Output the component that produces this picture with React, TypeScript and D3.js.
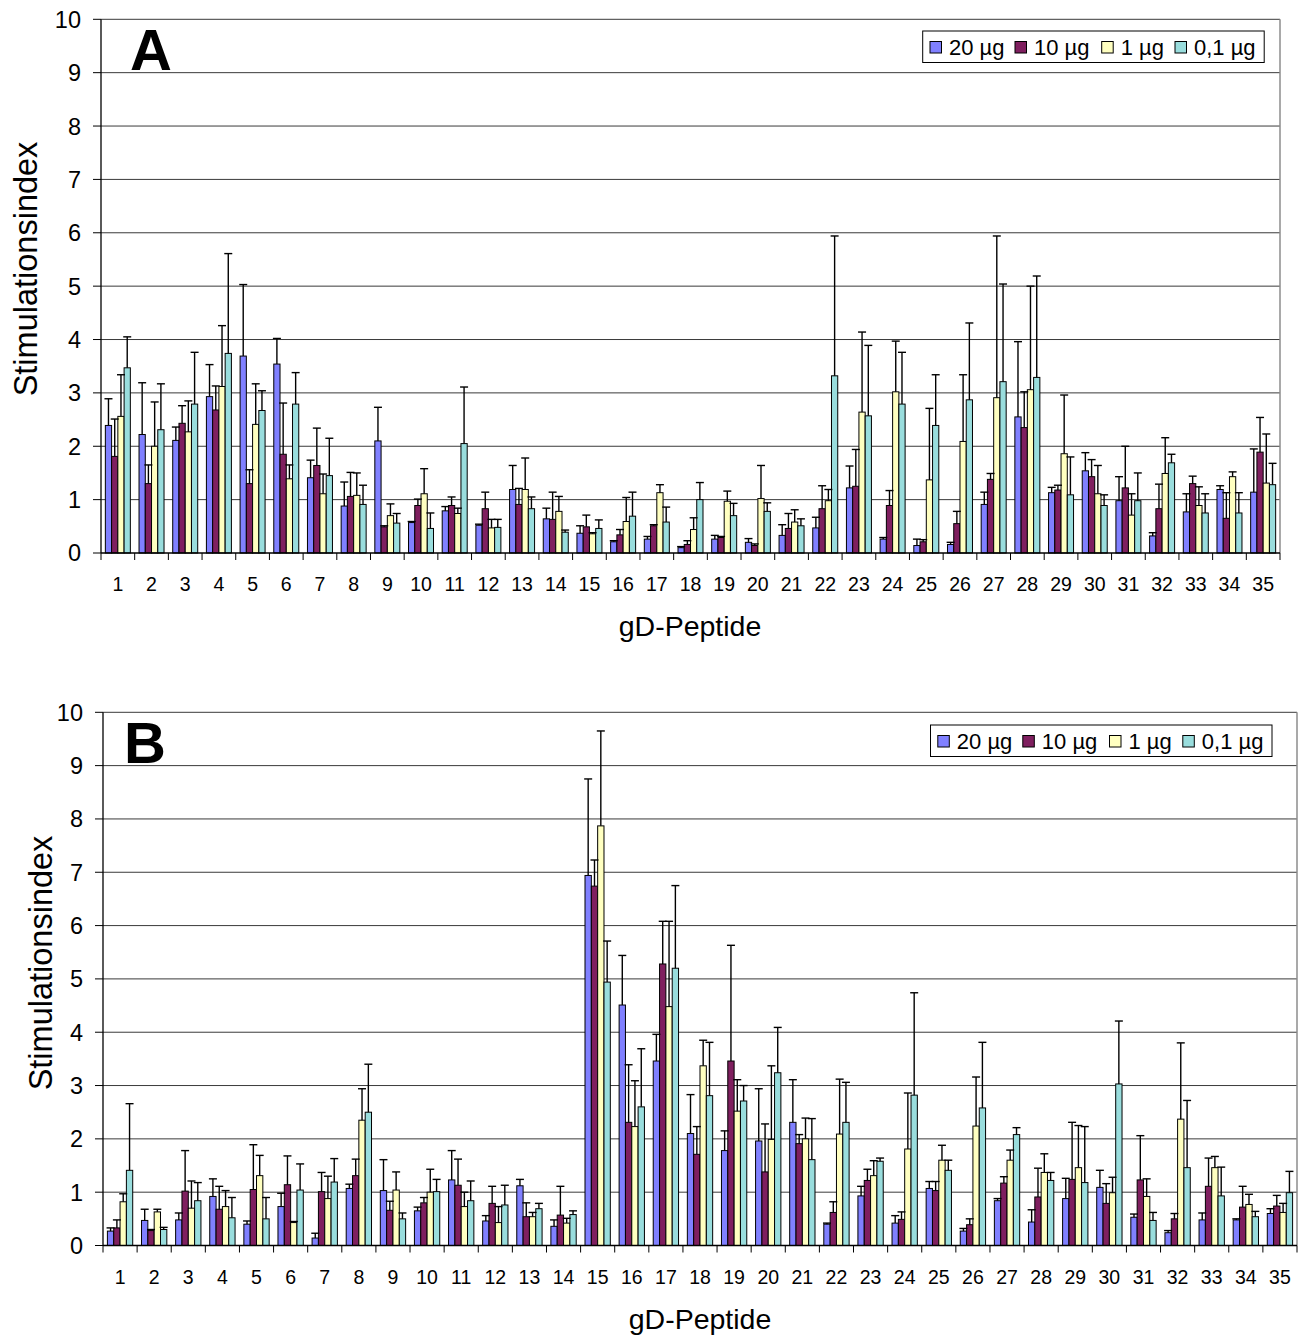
import React from "react";
import * as d3 from "d3";

const peptides = ["1","2","3","4","5","6","7","8","9","10","11","12","13","14","15","16","17","18","19","20","21","22","23","24","25","26","27","28","29","30","31","32","33","34","35"];
const seriesNames = ["20 µg", "10 µg", "1 µg", "0,1 µg"];
const seriesColors = ["#8080FF", "#7F1F5F", "#FFFFC0", "#99DDDD"];
const yTicks = [0, 1, 2, 3, 4, 5, 6, 7, 8, 9, 10];

// Panel A – means
const a20 = [2.39,2.22,2.11,2.93,3.69,3.54,1.41,0.88,2.10,0.57,0.79,0.52,1.19,0.64,0.37,0.21,0.26,0.10,0.26,0.20,0.33,0.47,1.22,0.26,0.14,0.16,0.91,2.55,1.13,1.54,0.98,0.32,0.77,1.19,1.14];
const a10 = [1.81,1.30,2.43,2.68,1.30,1.85,1.64,1.06,0.49,0.89,0.89,0.83,0.91,0.63,0.49,0.34,0.51,0.16,0.29,0.14,0.46,0.83,1.25,0.89,0.21,0.55,1.38,2.35,1.18,1.43,1.22,0.83,1.30,0.65,1.89];
const a1 = [2.56,2.00,2.27,3.12,2.41,1.39,1.11,1.08,0.70,1.11,0.74,0.47,1.19,0.78,0.36,0.59,1.13,0.44,0.97,1.02,0.58,0.98,2.64,3.02,1.37,2.09,2.91,3.06,1.86,1.11,0.71,1.49,0.89,1.43,1.31];
const a01 = [3.47,2.31,2.79,3.74,2.67,2.79,1.45,0.91,0.56,0.46,2.05,0.48,0.83,0.39,0.46,0.69,0.58,1.00,0.70,0.78,0.51,3.32,2.57,2.79,2.39,2.87,3.21,3.29,1.09,0.89,0.98,1.69,0.75,0.75,1.28];
// Panel A – standard deviations (upper error bars)
const a20sd = [0.50,0.97,0.25,0.60,1.34,0.48,0.33,0.45,0.63,0.02,0.08,0.02,0.45,0.20,0.14,0.02,0.05,0.02,0.07,0.07,0.20,0.20,0.41,0.03,0.12,0.04,0.23,1.41,0.10,0.34,0.45,0.06,0.34,0.07,0.81];
const a10sd = [0.70,0.35,0.33,0.45,0.26,0.96,0.70,0.45,0.02,0.12,0.16,0.31,0.30,0.51,0.22,0.10,0.02,0.07,0.02,0.03,0.28,0.43,0.69,0.28,0.04,0.23,0.11,0.67,0.09,0.32,0.78,0.46,0.14,0.48,0.65];
const a1sd = [0.78,0.83,0.58,1.14,0.76,0.26,0.37,0.42,0.22,0.47,0.10,0.16,0.59,0.28,0.02,0.45,0.15,0.22,0.19,0.62,0.23,0.21,1.50,0.95,1.34,1.25,3.03,1.94,1.10,0.53,0.40,0.67,0.35,0.09,0.92];
const a01sd = [0.58,0.86,0.97,1.87,0.37,0.59,0.70,0.36,0.18,0.29,1.06,0.15,0.22,0.04,0.16,0.45,0.28,0.32,0.23,0.16,0.13,2.62,1.32,0.97,0.95,1.44,1.83,1.90,0.71,0.20,0.52,0.16,0.36,0.38,0.40];

// Panel B – means
const b20 = [0.27,0.47,0.48,0.92,0.40,0.73,0.14,1.07,1.03,0.65,1.23,0.46,1.12,0.36,6.94,4.51,3.46,2.10,1.78,1.96,2.31,0.40,0.93,0.42,1.07,0.27,0.84,0.44,0.88,1.09,0.53,0.24,0.48,0.48,0.60];
const b10 = [0.33,0.28,1.02,0.68,1.05,1.14,1.01,1.31,0.66,0.80,1.13,0.79,0.54,0.57,6.74,2.31,5.28,1.71,3.46,1.38,1.91,0.62,1.22,0.49,1.03,0.39,1.17,0.91,1.24,0.79,1.23,0.50,1.11,0.72,0.74];
const b1 = [0.82,0.63,0.70,0.73,1.31,0.43,0.88,2.35,1.04,1.00,0.73,0.43,0.54,0.42,7.87,2.23,4.48,3.37,2.52,1.99,2.00,2.09,1.31,1.81,1.60,2.24,1.60,1.37,1.46,0.99,0.92,2.37,1.46,0.77,0.62];
const b01 = [1.41,0.30,0.84,0.52,0.50,1.04,1.19,2.50,0.50,1.01,0.84,0.76,0.69,0.58,4.94,2.60,5.20,2.81,2.71,3.24,1.61,2.31,1.58,2.82,1.41,2.58,2.08,1.22,1.18,3.03,0.47,1.46,0.93,0.54,0.99];
// Panel B – standard deviations
const b20sd = [0.06,0.21,0.13,0.33,0.06,0.25,0.09,0.08,0.58,0.07,0.55,0.10,0.12,0.12,1.81,0.93,0.50,0.73,0.37,0.98,0.80,0.02,0.18,0.14,0.13,0.05,0.04,0.23,0.38,0.32,0.06,0.04,0.13,0.02,0.09];
const b10sd = [0.15,0.02,0.76,0.43,0.84,0.54,0.36,0.31,0.17,0.10,0.49,0.32,0.26,0.54,0.49,1.08,0.80,0.52,2.17,0.90,0.17,0.20,0.21,0.14,0.17,0.11,0.12,0.54,1.07,0.37,0.83,0.10,0.53,0.39,0.20];
const b1sd = [0.15,0.05,0.51,0.30,0.38,0.02,0.42,0.59,0.34,0.43,0.27,0.30,0.08,0.09,1.78,0.86,1.60,0.48,0.59,1.38,0.39,1.03,0.28,1.05,0.28,0.92,0.19,0.35,0.79,0.29,0.33,1.43,0.21,0.19,0.17];
const b01sd = [1.25,0.04,0.34,0.38,0.40,0.49,0.44,0.90,0.11,0.23,0.37,0.37,0.10,0.07,0.77,1.09,1.55,1.00,0.29,0.85,0.77,0.75,0.06,1.92,0.19,1.23,0.13,0.15,1.05,1.18,0.15,1.26,0.54,0.10,0.40];

const FONT = "Liberation Sans, Arial, Helvetica, sans-serif";

type PanelProps = {
  label: string;
  means: number[][];
  sds: number[][];
  left: number;
  right: number;
  top: number;
  bottom: number;
  legendX: number;
  legendY: number;
  yTitleX: number;
  yTitleY: number;
  xTitleX: number;
  labelX: number;
  labelY: number;
};

function Panel(p: PanelProps) {
  const x = d3.scaleBand<string>().domain(peptides).range([p.left, p.right]).padding(0);
  const bw = x.bandwidth();
  const groupW = bw * 0.742;
  const xs = d3
    .scaleBand<string>()
    .domain(seriesNames)
    .range([(bw - groupW) / 2, (bw + groupW) / 2])
    .padding(0);
  const y = d3.scaleLinear().domain([0, 10]).range([p.bottom, p.top]);
  const capW = 8;

  const bars: React.ReactNode[] = [];
  const errs: React.ReactNode[] = [];
  seriesNames.forEach((s, si) => {
    peptides.forEach((c, ci) => {
      const v = p.means[si][ci];
      const e = p.sds[si][ci];
      const bx = (x(c) as number) + (xs(s) as number);
      const w = xs.bandwidth();
      bars.push(
        <rect
          key={`b-${si}-${ci}`}
          x={bx}
          y={y(v)}
          width={w}
          height={y(0) - y(v)}
          fill={seriesColors[si]}
          stroke="#000"
          strokeWidth={1}
        />
      );
      const cx = bx + w / 2;
      errs.push(
        <g key={`e-${si}-${ci}`} stroke="#000" strokeWidth={1.4}>
          <line x1={cx} x2={cx} y1={y(v)} y2={y(v + e)} />
          <line x1={cx - capW / 2} x2={cx + capW / 2} y1={y(v + e)} y2={y(v + e)} />
        </g>
      );
    });
  });

  const boundaries = [...peptides.map((c) => x(c) as number), p.right];

  // legend layout
  const legItemX = [7.3, 92.3, 179, 252.3];
  const legW = 341.5;
  const legH = 31.5;

  return (
    <g>
      {yTicks.slice(1).map((t) => (
        <line key={`g${t}`} x1={p.left} x2={p.right} y1={y(t)} y2={y(t)} stroke="#3a3a3a" strokeWidth={1} />
      ))}
      <line x1={p.right} x2={p.right} y1={p.top} y2={p.bottom} stroke="#8c8c8c" strokeWidth={1.5} />
      {bars}
      {errs}
      <line x1={p.left} x2={p.left} y1={p.top} y2={p.bottom} stroke="#000" strokeWidth={1.3} />
      {yTicks.map((t) => (
        <g key={`yt${t}`}>
          <line x1={p.left - 8} x2={p.left} y1={y(t)} y2={y(t)} stroke="#000" strokeWidth={1} />
          <text
            x={p.left - 20}
            y={y(t)}
            dy="0.36em"
            textAnchor="end"
            fontFamily={FONT}
            fontSize={23.5}
            fill="#000"
          >
            {t}
          </text>
        </g>
      ))}
      <line x1={p.left} x2={p.right} y1={p.bottom} y2={p.bottom} stroke="#000" strokeWidth={1.3} />
      {boundaries.map((bx, i) => (
        <line key={`xt${i}`} x1={bx} x2={bx} y1={p.bottom} y2={p.bottom + 7} stroke="#000" strokeWidth={1} />
      ))}
      {peptides.map((c) => (
        <text
          key={`xl${c}`}
          x={(x(c) as number) + bw / 2}
          y={p.bottom + 38}
          textAnchor="middle"
          fontFamily={FONT}
          fontSize={19.5}
          fill="#000"
        >
          {c}
        </text>
      ))}
      <text
        x={p.xTitleX}
        y={p.bottom + 83}
        textAnchor="middle"
        fontFamily={FONT}
        fontSize={28.5}
        fill="#000"
      >
        gD-Peptide
      </text>
      <text
        transform={`translate(${p.yTitleX},${p.yTitleY}) rotate(-90)`}
        textAnchor="middle"
        fontFamily={FONT}
        fontSize={32.5}
        fill="#000"
      >
        Stimulationsindex
      </text>
      <text x={p.labelX} y={p.labelY} fontFamily={FONT} fontWeight="bold" fontSize={58} fill="#000">
        {p.label}
      </text>
      <g transform={`translate(${p.legendX},${p.legendY})`}>
        <rect x={0} y={0} width={legW} height={legH} fill="#fff" stroke="#000" strokeWidth={1} />
        {seriesNames.map((s, i) => (
          <g key={`lg${i}`} transform={`translate(${legItemX[i]},0)`}>
            <rect x={0} y={10.5} width={11.5} height={11.5} fill={seriesColors[i]} stroke="#000" strokeWidth={1} />
            <text x={19} y={23.5} fontFamily={FONT} fontSize={22} fill="#000">
              {s}
            </text>
          </g>
        ))}
      </g>
    </g>
  );
}

export default function App() {
  return (
    <svg
      width={1308}
      height={1336}
      style={{ position: "absolute", left: 0, top: 0, background: "#fff" }}
    >
      <rect x={0} y={0} width={1308} height={1336} fill="#fff" />
      <Panel
        label="A"
        means={[a20, a10, a1, a01]}
        sds={[a20sd, a10sd, a1sd, a01sd]}
        left={101}
        right={1280}
        top={19.3}
        bottom={553}
        legendX={922.7}
        legendY={31}
        yTitleX={37}
        yTitleY={269}
        xTitleX={690}
        labelX={130}
        labelY={70}
      />
      <Panel
        label="B"
        means={[b20, b10, b1, b01]}
        sds={[b20sd, b10sd, b1sd, b01sd]}
        left={103}
        right={1297}
        top={712.3}
        bottom={1245.5}
        legendX={930.5}
        legendY={725}
        yTitleX={52}
        yTitleY={963}
        xTitleX={700}
        labelX={124}
        labelY={763}
      />
    </svg>
  );
}
